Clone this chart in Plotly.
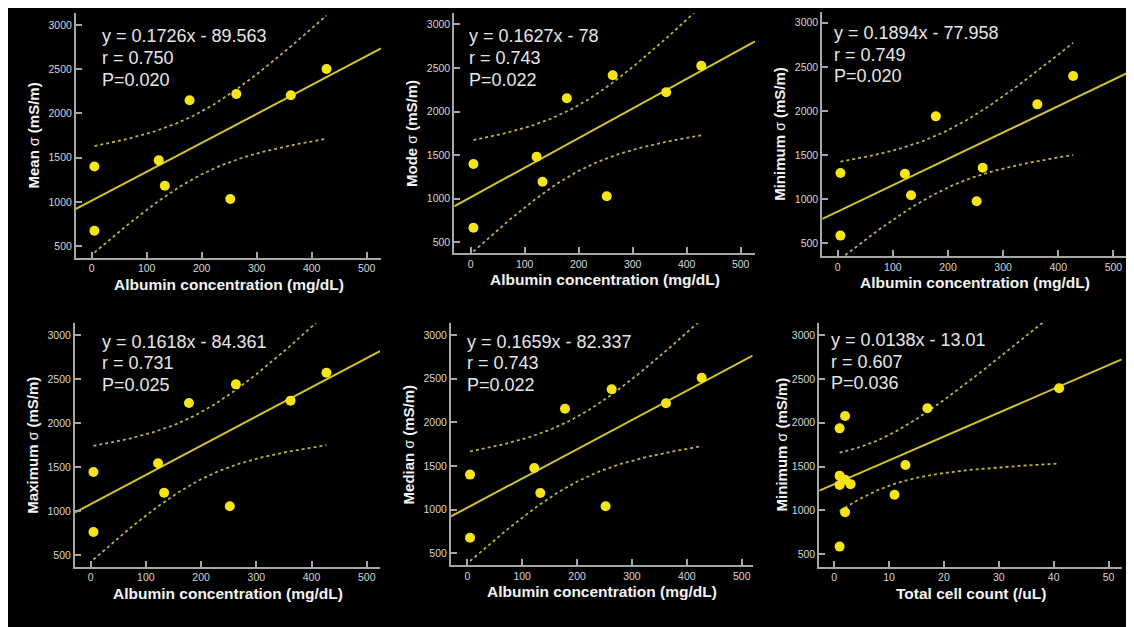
import numpy as np
import plotly.graph_objects as go

# ---------------- data ----------------
albumin = [5, 5, 122, 133, 178, 252, 263, 362, 427]
mean_sigma = [1400, 673, 1469, 1182, 2148, 1032, 2219, 2205, 2502]
mode_sigma = [1398, 667, 1482, 1195, 2151, 1028, 2415, 2220, 2525]
min_sigma = [1297, 587, 1289, 1044, 1939, 976, 1357, 2075, 2396]
max_sigma = [1443, 761, 1542, 1208, 2227, 1053, 2439, 2254, 2572]
median_sigma = [1401, 679, 1477, 1191, 2156, 1038, 2378, 2218, 2511]
cell_count = [1, 2, 1, 1, 2, 3, 2, 1, 11, 13, 17, 41]
min_sigma_cells = [1936, 2077, 1397, 1290, 1350, 1300, 979, 588, 1180, 1518, 2164, 2392]

equations = ["y = 0.1726x - 89.563", "y = 0.1627x - 78", "y = 0.1894x - 77.958",
             "y = 0.1618x - 84.361", "y = 0.1659x - 82.337", "y = 0.0138x - 13.01"]
r_labels = ["r = 0.750", "r = 0.743", "r = 0.749", "r = 0.731", "r = 0.743", "r = 0.607"]
p_labels = ["P=0.020", "P=0.022", "P=0.020", "P=0.025", "P=0.022", "P=0.036"]
y_names = ["Mean", "Mode", "Minimum", "Maximum", "Median", "Minimum"]
y_unit = "(mS/m)"
x_titles = ["Albumin concentration (mg/dL)"] * 5 + ["Total cell count (/uL)"]
alb_ticks = [0, 100, 200, 300, 400, 500]
cell_ticks = [0, 10, 20, 30, 40, 50]
sigma_ticks = [500, 1000, 1500, 2000, 2500, 3000]

# two-sided 95% t critical values by degrees of freedom
t_crit = {7: 2.365, 10: 2.228}

panels = [
    (albumin, mean_sigma), (albumin, mode_sigma), (albumin, min_sigma),
    (albumin, max_sigma), (albumin, median_sigma), (cell_count, min_sigma_cells),
]

# ---------------- layout geometry (screen pixels) ----------------
W, H = 1134, 627
OFF = 8  # page body margin: the figure starts 8 px in from the window edge
# (left, right, top, bottom) of each plot area in screen pixels
boxes = [(76, 381, 12.7, 257.7), (454.3, 755, 13.3, 253.3), (822.3, 1128.3, 11.7, 256),
         (75, 380, 323.3, 566.7), (451, 752.7, 323.3, 565), (819.3, 1121.7, 322.7, 566.7)]
xranges = [(-28.5, 526), (-30.4, 526.5), (-27.9, 527), (-28.4, 524), (-29.7, 520), (-2.7, 52.4)]
yranges = [(368, 3139), (374, 3126), (356, 3125), (367, 3133), (366, 3134), (359, 3140)]
text_x = [100, 467.3, 831.7, 100, 465, 829]
text_y = [36.5, 36.5, 33, 341.7, 341.7, 340]
ytitle_x = [33.3, 411.7, 780, 31.7, 408.3, 781.7]

FONT = "Liberation Sans, Arial, Helvetica, sans-serif"
DOT_C = "#f5e418"
LINE_C = "#d0c52c"
CI_C = "#bcb23e"
AXIS_C = "#a6a6a6"


def px_x(p):
    return (p - OFF) / W


def px_y(p):
    return 1 - (p - OFF) / H


fig = go.Figure()
annotations = []

for i, ((xs, ys), (l, r, t, b)) in enumerate(zip(panels, boxes)):
    k = i + 1
    xa = "x" if k == 1 else f"x{k}"
    ya = "y" if k == 1 else f"y{k}"
    x = np.asarray(xs, float)
    y = np.asarray(ys, float)
    n = len(x)
    slope, intercept = np.polyfit(x, y, 1)
    resid = y - (slope * x + intercept)
    s = np.sqrt(np.sum(resid ** 2) / (n - 2))
    sxx = np.sum((x - x.mean()) ** 2)
    tc = t_crit[n - 2]

    # regression line across the full axis
    xl = np.array(xranges[i])
    fig.add_trace(go.Scatter(x=xl, y=slope * xl + intercept, mode="lines",
                             line=dict(color=LINE_C, width=2), xaxis=xa, yaxis=ya,
                             showlegend=False, hoverinfo="skip"))
    # 95% confidence band of the mean
    xc = np.linspace(x.min(), x.max(), 120)
    yc = slope * xc + intercept
    half = tc * s * np.sqrt(1.0 / n + (xc - x.mean()) ** 2 / sxx)
    for sign in (1, -1):
        fig.add_trace(go.Scatter(x=xc, y=yc + sign * half, mode="lines",
                                 line=dict(color=CI_C, width=1.8, dash="dot"),
                                 xaxis=xa, yaxis=ya, showlegend=False, hoverinfo="skip"))
    # points
    fig.add_trace(go.Scatter(x=xs, y=ys, mode="markers",
                             marker=dict(color=DOT_C, size=10, line=dict(width=0)),
                             xaxis=xa, yaxis=ya, showlegend=False))

    ticks_x = cell_ticks if i == 5 else alb_ticks
    axis_common = dict(showline=True, linecolor=AXIS_C, linewidth=2, ticks="inside",
                       ticklen=6, tickwidth=1.5, tickcolor=AXIS_C, showgrid=False,
                       zeroline=False, tickfont=dict(family=FONT, size=10.5, color="#d6d6d6"),
                       fixedrange=True)
    fig.layout[f"xaxis{'' if k == 1 else k}"] = dict(
        domain=[px_x(l), px_x(r)], range=list(xranges[i]), anchor=ya,
        tickvals=ticks_x, **axis_common)
    fig.layout[f"yaxis{'' if k == 1 else k}"] = dict(
        domain=[px_y(b), px_y(t)], range=list(yranges[i]), anchor=xa,
        tickvals=sigma_ticks, **axis_common)

    # equation text
    for j, txt in enumerate([equations[i], r_labels[i], p_labels[i]]):
        annotations.append(dict(x=px_x(text_x[i]), y=px_y(text_y[i] + j * 21.7),
                                xref="paper", yref="paper", xanchor="left", yanchor="middle",
                                text=txt, showarrow=False,
                                font=dict(family=FONT, size=18, color="#e6e6e6")))
    # x title
    annotations.append(dict(x=px_x((l + r) / 2), y=px_y(b + 26.6), xref="paper", yref="paper",
                            xanchor="center", yanchor="middle", showarrow=False,
                            text=f"<b>{x_titles[i]}</b>",
                            font=dict(family=FONT, size=15.5, color="#f2f2f2")))
    # y title (sigma drawn in regular weight, as in the reference)
    ytxt = f"<b>{y_names[i]} </b><span style='font-size:14px'>σ</span><b> {y_unit}</b>"
    annotations.append(dict(x=px_x(ytitle_x[i]), y=px_y((t + b) / 2), xref="paper", yref="paper",
                            xanchor="center", yanchor="middle", showarrow=False, textangle=-90,
                            text=ytxt,
                            font=dict(family=FONT, size=15, color="#f2f2f2")))

fig.update_layout(
    width=W, height=H, margin=dict(l=0, r=0, t=0, b=0),
    paper_bgcolor="black", plot_bgcolor="black",
    annotations=annotations,
    showlegend=False,
)

fig.write_html("out.html")
